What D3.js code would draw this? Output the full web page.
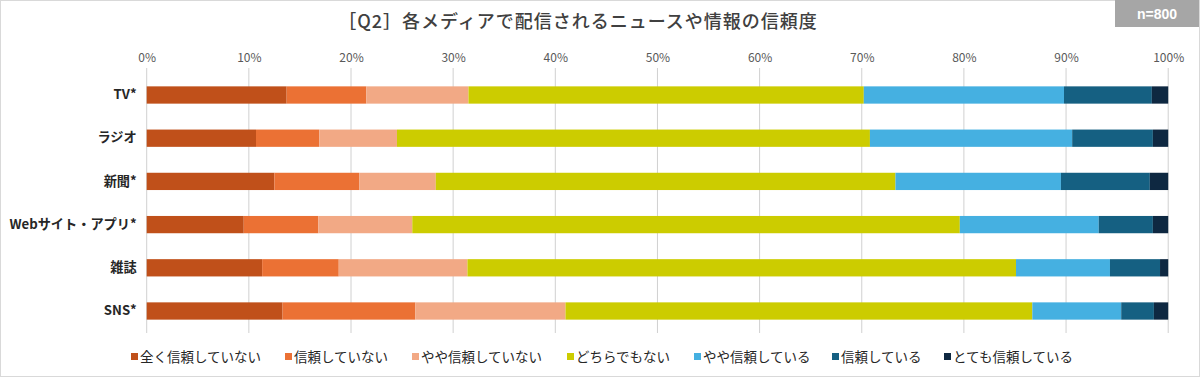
<!DOCTYPE html>
<html><head><meta charset="utf-8">
<script src="https://cdn.jsdelivr.net/npm/d3@7"></script>
<style>
html,body{margin:0;padding:0;background:#fff;}
svg{display:block;font-family:"Noto Sans CJK JP","Noto Sans",sans-serif;}
</style></head><body>
<svg id="chart" width="1200" height="378"></svg>
<script>
const categories = ["TV*","ラジオ","新聞*","Webサイト・アプリ*","雑誌","SNS*"];
const seriesNames = ["全く信頼していない","信頼していない","やや信頼していない","どちらでもない","やや信頼している","信頼している","とても信頼している"];
const s1 = [13.7,10.7,12.5, 9.5,11.3,13.3];
const s2 = [ 7.8, 6.2, 8.3, 7.3, 7.5,13.0];
const s3 = [10.0, 7.6, 7.5, 9.2,12.6,14.7];
const s4 = [38.7,46.3,45.0,53.6,53.7,45.7];
const s5 = [19.6,19.8,16.2,13.6, 9.2, 8.7];
const s6 = [ 8.6, 7.9, 8.7, 5.3, 4.9, 3.2];
const s7 = [ 1.6, 1.5, 1.8, 1.5, 0.8, 1.4];
const tickValues = [0,10,20,30,40,50,60,70,80,90,100];
const colors = ["#C0501A","#EB7134","#F2A985","#CCCC00","#45B0E1","#156082","#0E2841"];

const seriesVals = [s1,s2,s3,s4,s5,s6,s7];
const rows = categories.map((c,i)=>{
  const o = {cat:c};
  seriesNames.forEach((n,j)=>o[n]=seriesVals[j][i]);
  return o;
});
const stack = d3.stack().keys(seriesNames)(rows);

const svg = d3.select("#chart");
svg.append("rect").attr("x",0.5).attr("y",0.5).attr("width",1199).attr("height",376)
  .attr("fill","#fff").attr("stroke","#D9D9D9");

const x = d3.scaleLinear().domain([0,100]).range([146.7,1168.2]);
const y = d3.scaleBand().domain(categories).range([73.4,332.6]).paddingInner(0.6).paddingOuter(0.3);

// title
svg.append("text").attr("x",578).attr("y",28).attr("text-anchor","middle")
  .attr("font-size",18).attr("letter-spacing",1).attr("font-weight",500).attr("fill","#404040")
  .text("［Q2］各メディアで配信されるニュースや情報の信頼度");

// n box
svg.append("rect").attr("x",1115).attr("y",0).attr("width",84).attr("height",27).attr("fill","#A6A6A6");
svg.append("text").attr("x",1157).attr("y",19).attr("text-anchor","middle")
  .attr("font-size",14).attr("font-weight",700).attr("fill","#fff").attr("font-family","'Liberation Sans',Arial,sans-serif").text("n=800");

// grid
svg.append("g").selectAll("line").data(tickValues).join("line")
  .attr("x1",d=>x(d)).attr("x2",d=>x(d)).attr("y1",68).attr("y2",333)
  .attr("stroke","#D0D0D0").attr("stroke-width",1);

// top axis labels
const axis = d3.axisTop(x).tickValues(tickValues).tickFormat(d=>d+"%").tickSize(0).tickPadding(0);
const ag = svg.append("g").attr("transform","translate(0,62)").call(axis);
ag.select(".domain").remove();
ag.selectAll("text").attr("font-size",12).attr("fill","#595959")
  .attr("font-family","'Noto Sans CJK JP',sans-serif");

// bars
stack.forEach((layer,j)=>{
  svg.append("g").attr("fill",colors[j]).selectAll("rect").data(layer).join("rect")
    .attr("x",d=>x(d[0])).attr("width",d=>x(d[1])-x(d[0]))
    .attr("y",d=>y(d.data.cat)).attr("height",y.bandwidth());
});

// category axis
const ya = d3.axisLeft(y).tickSize(0).tickPadding(10);
const yg = svg.append("g").attr("transform","translate(146.7,0)").call(ya);
yg.select(".domain").remove();
yg.selectAll("text").attr("font-size",13.2).attr("font-weight",700).attr("fill","#262626")
  .attr("font-family","'Noto Sans CJK JP',sans-serif");

// legend
const legendX = [131,285,412,567,694,832,944];
const lg = svg.append("g");
seriesNames.forEach((n,j)=>{
  const g = lg.append("g").attr("transform",`translate(${legendX[j]},358)`);
  g.append("rect").attr("x",0).attr("y",-5).attr("width",7).attr("height",7).attr("fill",colors[j]);
  g.append("text").attr("x",9).attr("y",3.5).attr("font-size",13.5).attr("fill","#262626").text(n);
});
</script>
</body></html>
